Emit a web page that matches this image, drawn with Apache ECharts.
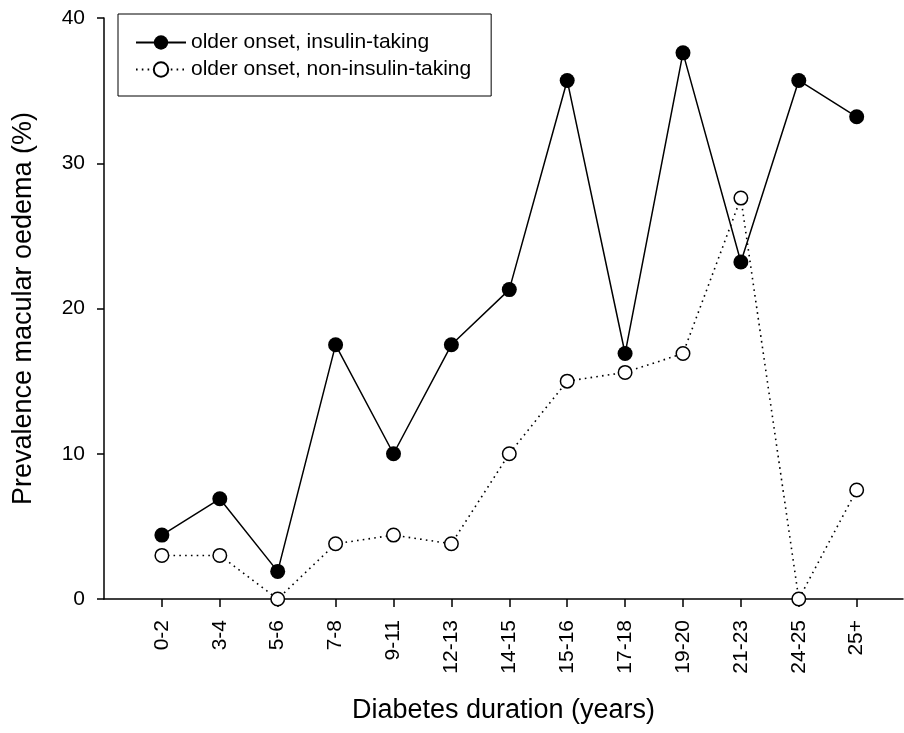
<!DOCTYPE html>
<html>
<head>
<meta charset="utf-8">
<script src="https://cdn.jsdelivr.net/npm/echarts@6/dist/echarts.min.js"></script>
<style>
html,body{margin:0;padding:0;background:#fff;}
#chart{width:904px;height:733px;}
</style>
</head>
<body>
<div id="chart"></div>
<script>
var categories = ['0-2','3-4','5-6','7-8','9-11','12-13','14-15','15-16','17-18','19-20','21-23','24-25','25+'];
var insulinTaking = [4.4, 6.9, 1.9, 17.5, 10.0, 17.5, 21.3, 35.7, 16.9, 37.6, 23.2, 35.7, 33.2];
var nonInsulinTaking = [3.0, 3.0, 0.0, 3.8, 4.4, 3.8, 10.0, 15.0, 15.6, 16.9, 27.6, 0.0, 7.5];
var yTicks = [0, 10, 20, 30, 40];
var seriesNames = ['older onset, insulin-taking', 'older onset, non-insulin-taking'];

var positions = categories.map(function (c, i) { return i + 1; });
function pairs(vals) { return vals.map(function (v, i) { return [positions[i], v]; }); }

var FONT = '"Liberation Sans", Arial, Helvetica, sans-serif';
var chart = echarts.init(document.getElementById('chart'), null, {renderer: 'canvas'});
chart.setOption({
  backgroundColor: '#fff',
  animation: false,
  textStyle: {fontFamily: FONT, color: '#000'},
  grid: {left: 104, right: 1, top: 18, bottom: 134},
  legend: {
    left: 118, top: 14,
    orient: 'vertical',
    padding: [18, 20, 16, 17],
    itemWidth: 50, itemHeight: 18, itemGap: 6,
    borderColor: '#000', borderWidth: 1,
    textStyle: {fontFamily: FONT, fontSize: 21, color: '#000'},
    data: seriesNames
  },
  xAxis: {
    type: 'value', min: 0, max: 13.8,
    axisLine: {lineStyle: {color: '#000', width: 1.5}},
    axisTick: {show: true, length: 8, lineStyle: {color: '#000', width: 1.5}, customValues: positions},
    axisLabel: {
      customValues: positions, rotate: 90, margin: 21,
      fontFamily: FONT, fontSize: 21, color: '#000',
      formatter: function (v) { return categories[Math.round(v) - 1] || ''; }
    },
    splitLine: {show: false},
    name: 'Diabetes duration (years)', nameLocation: 'middle', nameGap: 98,
    nameTextStyle: {fontFamily: FONT, fontSize: 27, color: '#000'}
  },
  yAxis: {
    type: 'value', min: 0, max: 40, interval: 10,
    axisLine: {show: true, lineStyle: {color: '#000', width: 1.5}},
    axisTick: {show: true, length: 7, lineStyle: {color: '#000', width: 1.5}},
    axisLabel: {margin: 19, fontFamily: FONT, fontSize: 21, color: '#000',
      customValues: yTicks},
    splitLine: {show: false},
    name: 'Prevalence macular oedema (%)', nameLocation: 'middle', nameGap: 67,
    nameTextStyle: {fontFamily: FONT, fontSize: 27, color: '#000'}
  },
  series: [
    {
      name: seriesNames[0], type: 'line', data: pairs(insulinTaking),
      symbol: 'circle', symbolSize: 15,
      lineStyle: {color: '#000', width: 1.5},
      itemStyle: {color: '#000', borderColor: '#000', borderWidth: 0},
      z: 2
    },
    {
      name: seriesNames[1], type: 'line', data: pairs(nonInsulinTaking),
      symbol: 'circle', symbolSize: 13.5,
      lineStyle: {color: '#000', width: 1.6, type: [1.6, 4.2]},
      itemStyle: {color: '#fff', borderColor: '#000', borderWidth: 1.5},
      z: 3
    }
  ]
});
</script>
</body>
</html>
